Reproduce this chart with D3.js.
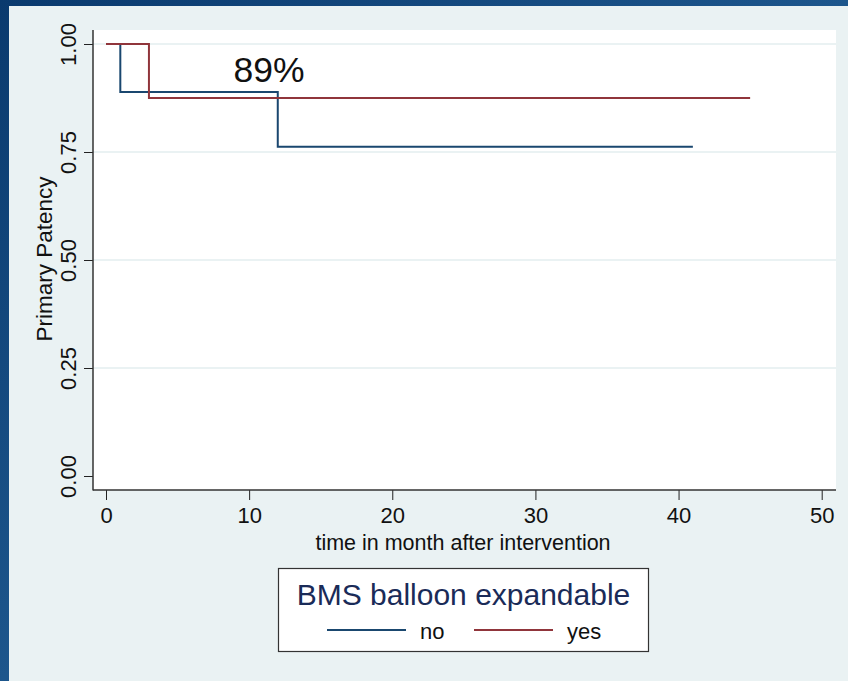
<!DOCTYPE html>
<html>
<head>
<meta charset="utf-8">
<script src="https://cdn.jsdelivr.net/npm/d3@7"></script>
<style>
  body { margin: 0; background: #003366; }
  svg { display: block; font-family: "Liberation Sans", Arial, sans-serif; }
</style>
</head>
<body>
<script>
// Kaplan-Meier steps
var groups = ["no", "yes"]
var timeNo = [0, 1, 12, 41]
var survNo = [1, 0.889, 0.762, 0.762]
var timeYes = [0, 3, 45]
var survYes = [1, 0.875, 0.875]
var xTicks = [0, 10, 20, 30, 40, 50]
var yTicks = [0, 0.25, 0.5, 0.75, 1]
var note = "89%"

var colors = { no: "#1a476f", yes: "#90353b" }

var svg = d3.select("body").append("svg")
  .attr("width", 848)
  .attr("height", 681)

// dark slide background
var grad = svg.append("defs").append("linearGradient")
  .attr("id", "bg").attr("x1", 0).attr("y1", 0).attr("x2", 1).attr("y2", 1)
grad.append("stop").attr("offset", "0%").attr("stop-color", "#0a3a6e")
grad.append("stop").attr("offset", "50%").attr("stop-color", "#1d568c")
grad.append("stop").attr("offset", "100%").attr("stop-color", "#003366")
svg.append("rect").attr("width", 848).attr("height", 681).attr("fill", "url(#bg)")

// graph panel
svg.append("rect")
  .attr("x", 9).attr("y", 6)
  .attr("width", 839).attr("height", 675)
  .attr("fill", "#eaf2f3")

var plotL = 93, plotR = 836, plotT = 30, plotB = 490

svg.append("rect")
  .attr("x", plotL).attr("y", plotT)
  .attr("width", plotR - plotL).attr("height", plotB - plotT)
  .attr("fill", "#ffffff")

var x = d3.scaleLinear().domain([0, 50]).range([106, 821.7])
var y = d3.scaleLinear().domain([0, 1]).range([476, 44])

// gridlines
svg.selectAll(".grid")
  .data(yTicks.filter(function(d) { return d > 0 }))
  .enter().append("line")
  .attr("class", "grid")
  .attr("x1", plotL).attr("x2", plotR)
  .attr("y1", function(d) { return y(d) })
  .attr("y2", function(d) { return y(d) })
  .attr("stroke", "#eaf2f3")
  .attr("stroke-width", 2)

// axes
var yAxis = svg.append("g")
  .attr("transform", "translate(" + plotL + ",0)")
  .call(d3.axisLeft(y).tickValues(yTicks).tickFormat(d3.format(".2f")).tickSize(9).tickSizeOuter(0))
yAxis.select(".domain").remove()
yAxis.selectAll("line").attr("stroke", "#222")
yAxis.selectAll("text")
  .attr("font-size", 22)
  .attr("fill", "#111")
  .attr("transform", "translate(-17,0) rotate(-90)")
  .attr("x", 0).attr("y", 0).attr("dy", 0)
  .attr("text-anchor", "middle")

var xAxis = svg.append("g")
  .attr("transform", "translate(0," + plotB + ")")
  .call(d3.axisBottom(x).tickValues(xTicks).tickSize(10).tickSizeOuter(0))
xAxis.select(".domain").remove()
xAxis.selectAll("line").attr("stroke", "#222")
xAxis.selectAll("text")
  .attr("font-size", 22)
  .attr("fill", "#111")
  .attr("y", 0).attr("dy", 0)
  .attr("transform", "translate(0,33)")

svg.append("line")
  .attr("x1", plotL).attr("x2", plotL).attr("y1", plotT).attr("y2", plotB + 0.5)
  .attr("stroke", "#333").attr("stroke-width", 1.5)
svg.append("line")
  .attr("x1", plotL).attr("x2", plotR).attr("y1", plotB).attr("y2", plotB)
  .attr("stroke", "#333").attr("stroke-width", 1.5)

// axis titles
svg.append("text")
  .attr("x", 463).attr("y", 550)
  .attr("text-anchor", "middle")
  .attr("font-size", 21.5).attr("fill", "#111")
  .text("time in month after intervention")

svg.append("text")
  .attr("transform", "translate(51.5,259) rotate(-90)")
  .attr("text-anchor", "middle")
  .attr("font-size", 22.5).attr("fill", "#111")
  .text("Primary Patency")

// survival steps
var line = d3.line()
  .x(function(d) { return x(d[0]) })
  .y(function(d) { return y(d[1]) })
  .curve(d3.curveStepAfter)

var series = [
  { key: "no", pts: d3.zip(timeNo, survNo) },
  { key: "yes", pts: d3.zip(timeYes, survYes) }
]

svg.selectAll(".km")
  .data(series)
  .enter().append("path")
  .attr("class", "km")
  .attr("d", function(d) { return line(d.pts) })
  .attr("fill", "none")
  .attr("stroke", function(d) { return colors[d.key] })
  .attr("stroke-width", 2)

svg.append("text")
  .attr("x", 269).attr("y", 82)
  .attr("text-anchor", "middle")
  .attr("font-size", 35.5).attr("fill", "#111")
  .text(note)

// legend
var lg = svg.append("g")
lg.append("rect")
  .attr("x", 278.5).attr("y", 568.5)
  .attr("width", 370).attr("height", 83)
  .attr("fill", "#ffffff")
  .attr("stroke", "#333").attr("stroke-width", 1.2)
lg.append("text")
  .attr("x", 463.5).attr("y", 605)
  .attr("text-anchor", "middle")
  .attr("font-size", 30).attr("fill", "#1a2b58")
  .text("BMS balloon expandable")

var items = lg.selectAll(".item")
  .data(groups)
  .enter().append("g")
  .attr("class", "item")
  .attr("transform", function(d, i) { return "translate(" + (327 + i * 147) + ",630)" })
items.append("line")
  .attr("x1", 0).attr("x2", 79)
  .attr("stroke", function(d) { return colors[d] })
  .attr("stroke-width", 2)
items.append("text")
  .attr("x", 93).attr("y", 9)
  .attr("font-size", 22).attr("fill", "#111")
  .text(function(d) { return d })
</script>
</body>
</html>
